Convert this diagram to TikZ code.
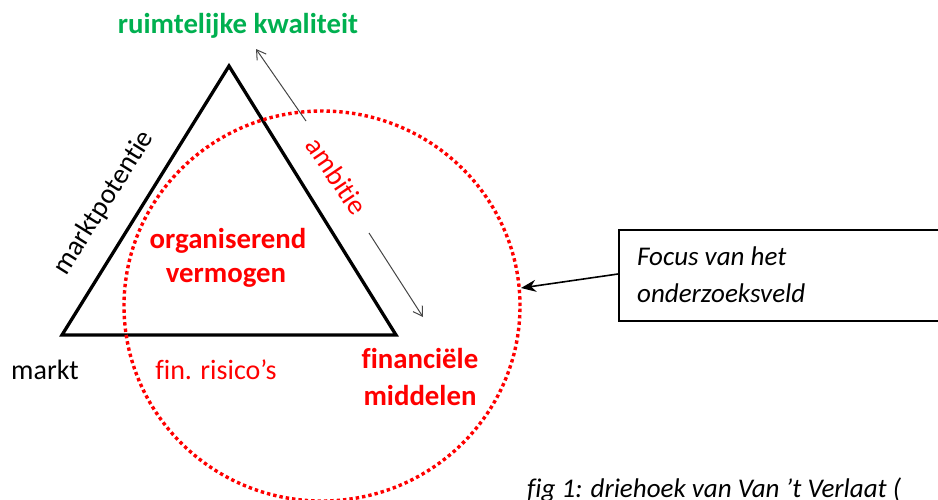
\documentclass[tikz,border=0pt]{standalone}
\usepackage{fontspec}
\setmainfont{Carlito}
\usetikzlibrary{arrows.meta}
\definecolor{kwgreen}{RGB}{0,176,80}
\definecolor{kwred}{RGB}{255,0,0}
\definecolor{pointer}{RGB}{70,70,70}
% keep letter pairs such as t-i and f-i apart
\newcommand{\nolig}{\kern0pt }
\begin{document}
\begin{tikzpicture}[x=1pt,y=-1pt,
  txt/.style={font=\fontsize{28}{34}\selectfont, inner sep=0pt},
  boldtxt/.style={txt, font=\fontsize{28.8}{34}\selectfont\bfseries},
  itxt/.style={font=\fontsize{27}{32}\selectfont\itshape, inner sep=0pt},
  edge/.style={line width=3.3pt, line join=miter},
  focusring/.style={kwred, line width=3.4pt, dash pattern=on 3.4pt off 3pt},
  thinarrow/.style={pointer, line width=1pt, -{Straight Barb[length=9pt,width=11pt]}},
  boxarrow/.style={line width=1.6pt, -{Stealth[length=15pt,width=12pt]}},
  frame/.style={draw, line width=1.8pt, minimum width=330pt, minimum height=91pt, anchor=north west, inner sep=0pt}]
\useasboundingbox (0,0) rectangle (938,499);
\clip (0,0) rectangle (938,499);

% triangle
\coordinate (top) at (229,66);
\coordinate (left) at (62,335);
\coordinate (right) at (396,335);
\draw[edge] (top) -- (left) -- (right) -- cycle;

% dotted focus circle
\coordinate (ringc) at (322,306);
\draw[focusring] (ringc) circle[x radius=198pt, y radius=195pt];
\coordinate (ringpt) at (521,288);

% labels at the corners and sides
\node[boldtxt, text=kwgreen, anchor=base] (kwal) at (238,33) {ruimtelijke kwaliteit};
\node[txt, anchor=base] (markt) at (45,379) {markt};
\node[txt, text=kwred, anchor=base] (risico) at (216,379) {f\nolig in. risico’s};
\node[boldtxt, text=kwred, anchor=base] (fin1) at (420,368) {f\nolig inanciële};
\node[boldtxt, text=kwred, anchor=base] (fin2) at (420,405) {middelen};
\node[boldtxt, text=kwred, anchor=base] (org1) at (228,248) {organiserend};
\node[boldtxt, text=kwred, anchor=base] (org2) at (226,282) {vermogen};
\node[txt, rotate=58] (potentie) at (104,203) {marktpotent\nolig ie};
\node[txt, text=kwred, rotate=-56] (ambitie) at (337,176) {ambit\nolig ie};

% direction arrows along the right side
\coordinate (up1) at (306,121);
\coordinate (up2) at (256,49);
\coordinate (dn1) at (369,233);
\coordinate (dn2) at (423,317);
\draw[thinarrow] (up1) -- (up2);
\draw[thinarrow] (dn1) -- (dn2);

% callout box
\node[frame] (focusbox) at (618,229) {};
\node[itxt, anchor=base west] (focus1) at (637,265) {Focus van het};
\node[itxt, anchor=base west] (focus2) at (637,302) {onderzoeksveld};
\draw[boxarrow] (focusbox.west |- 0,274) -- (ringpt);

% caption
\node[itxt, anchor=base west] (caption) at (527,497) {f\nolig ig 1: driehoek van Van ’t Verlaat (};
\end{tikzpicture}
\end{document}
